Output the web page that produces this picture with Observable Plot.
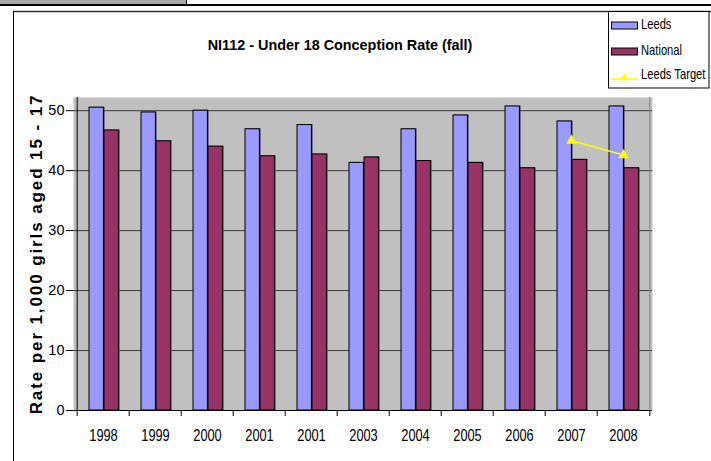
<!DOCTYPE html>
<html><head><meta charset="utf-8">
<script src="https://cdn.jsdelivr.net/npm/d3@7"></script>
<script src="https://cdn.jsdelivr.net/npm/@observablehq/plot@0.6"></script>
<style>
body{margin:0;background:#fff;}
#wrap{position:relative;width:711px;height:461px;overflow:hidden;}
#wrap svg{position:absolute;left:0;top:0;}
</style></head><body><div id="wrap"></div>
<script>
const years = ["1998","1999","2000","2001","2001","2003","2004","2005","2006","2007","2008"];
const leeds = [50.5,49.7,50.0,46.9,47.6,41.3,46.9,49.2,50.7,48.2,50.7];
const national = [46.7,44.9,44.0,42.4,42.7,42.2,41.6,41.3,40.4,41.8,40.4];
const targetYears = ["2007","2008"];
const targetValues = [45.0,42.6];
const seriesNames = ["Leeds","National","Leeds Target"];
const seriesColors = ["#9999ff","#993366","#ffff00"];
const yTicks = [0,10,20,30,40,50];
const titleText = "NI112 - Under 18 Conception Rate (fall)";
const yTitle = "Rate per 1,000 girls aged 15 - 17";

const W=711,H=461,mL=73,mR=59,mT=97,mB=51;
const idx = d3.range(years.length);
const bw = (W-mL-mR)/years.length;
const leedsRows = idx.map(i=>({i, v:leeds[i]}));
const natRows = idx.map(i=>({i, v:national[i]}));
const targetRows = targetYears.map((y,k)=>({i: years.lastIndexOf(y), v: targetValues[k]}));
const sans = '"Liberation Sans",Arial,sans-serif';
const NARROW = 0.8;

const chart = Plot.plot({
  width:W, height:H, marginLeft:mL, marginRight:mR, marginTop:mT, marginBottom:mB,
  style:{background:"transparent", fontFamily:sans, overflow:"visible", color:"#000"},
  x:{type:"band", domain:idx, padding:0, axis:null},
  y:{domain:[0,52.2], axis:null},
  marks:[
    Plot.frame({fill:"#c0c0c0", stroke:null}),
    Plot.ruleY(yTicks.filter(t=>t>0), {stroke:"#3c3c3c", strokeWidth:1}),
    Plot.barY(leedsRows, {x:"i", y:"v", fill:seriesColors[0], stroke:"#000", strokeWidth:1, insetLeft:12, insetRight:25.6}),
    Plot.barY(natRows, {x:"i", y:"v", fill:seriesColors[1], stroke:"#000", strokeWidth:1, insetLeft:27, insetRight:10.6}),
    Plot.ruleY([0], {stroke:"#000"}),
    Plot.ruleX([0], {dx:-bw/2, stroke:"#000"}),
    Plot.ruleX([idx.length-1], {dx:bw/2, stroke:"#808080"}),
    Plot.axisY(yTicks, {tickSize:7, tickPadding:2, fontSize:14.5, fontFamily:sans, label:null}),
    Plot.axisX(idx, {tickSize:6, tickFormat:()=>"", dx:-bw/2, label:null}),
    Plot.axisX([idx.length-1], {tickSize:6, tickFormat:()=>"", dx:bw/2, label:null}),
    Plot.axisX(idx, {tickSize:0, tickPadding:19.5, tickFormat:i=>years[i], fontSize:16, fontFamily:sans, label:null}),
    Plot.line(targetRows, {x:"i", y:"v", stroke:seriesColors[2], strokeWidth:1.5}),
    Plot.dot(targetRows, {x:"i", y:"v", symbol:"triangle", fill:seriesColors[2], stroke:seriesColors[2], r:3})
  ]
});
document.getElementById("wrap").appendChild(chart);
// condense the category labels (Excel-style narrow text)
d3.select(chart).selectAll("text").each(function(){
  const t = d3.select(this);
  if (years.includes(t.text()) && t.attr("transform")) t.attr("transform", t.attr("transform")+` scale(${NARROW},1)`);
});
// light shadow on bars, as in the Excel original
d3.select(chart).selectAll('g[aria-label="bar"]').style("filter","drop-shadow(1px 0px 0px rgba(60,60,60,0.6))");

// overlay: frame, title, axis title, legend
const ov = d3.select("#wrap").append("svg").attr("width",W).attr("height",H).style("pointer-events","none");
ov.append("rect").attr("x",0).attr("y",0).attr("width",186).attr("height",4).attr("fill","#a8a8a8");
ov.append("line").attr("x1",186.5).attr("x2",186.5).attr("y1",0).attr("y2",5).attr("stroke","#000");
ov.append("rect").attr("x",0).attr("y",4).attr("width",W).attr("height",2).attr("fill","#000");
ov.append("line").attr("x1",13).attr("x2",W).attr("y1",11.5).attr("y2",11.5).attr("stroke","#333").attr("stroke-width",1.5);
ov.append("line").attr("x1",13.5).attr("x2",13.5).attr("y1",11).attr("y2",H).attr("stroke","#000");
ov.append("text").attr("x",340).attr("y",50).attr("text-anchor","middle")
  .attr("font-family",sans).attr("font-weight","bold").attr("font-size",14.4).text(titleText);
ov.append("text").attr("transform","translate(42,254) rotate(-90)").attr("text-anchor","middle")
  .attr("font-family",sans).attr("font-weight","bold").attr("font-size",17).attr("letter-spacing",1.9).text(yTitle);
const lg = ov.append("g");
lg.append("rect").attr("x",608.5).attr("y",11.5).attr("width",100.5).attr("height",76.5).attr("fill","#fff").attr("stroke","#000");
const lgY = [29,55,79];
seriesNames.forEach((name,k)=>{
  if(k<2){
    lg.append("rect").attr("x",611.5).attr("y",lgY[k]-7).attr("width",26).attr("height",7)
      .attr("fill",seriesColors[k]).attr("stroke","#000");
  } else {
    lg.append("line").attr("x1",611).attr("x2",638).attr("y1",lgY[k]).attr("y2",lgY[k]).attr("stroke",seriesColors[k]).attr("stroke-width",1.5);
    lg.append("path").attr("d",d3.symbol(d3.symbolTriangle,28)()).attr("transform",`translate(624.5,${lgY[k]-1})`).attr("fill",seriesColors[k]);
  }
  lg.append("text").attr("transform",`translate(641,${lgY[k]}) scale(${NARROW},1)`)
    .attr("font-family",sans).attr("font-size",14).text(name);
});
</script></body></html>
